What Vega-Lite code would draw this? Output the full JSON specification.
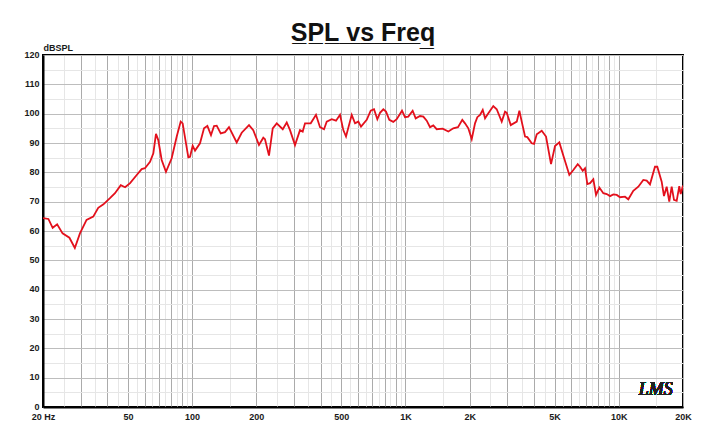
{
  "$schema": "https://vega.github.io/schema/vega-lite/v6.json",
  "width": 640,
  "height": 352,
  "autosize": {"type": "none"},
  "padding": {"left": 43, "top": 55, "right": 21, "bottom": 18},
  "background": "white",
  "title": {
    "text": "S\u0332P\u0332L\u0332 \u0332v\u0332s\u0332 \u0332F\u0332r\u0332e\u0332q\u0332",
    "font": "Liberation Sans",
    "fontSize": 25,
    "fontWeight": "bold",
    "color": "#111111",
    "anchor": "middle",
    "frame": "group",
    "offset": -3
  },
  "config": {
    "view": {"stroke": "#000000", "strokeWidth": 2},
    "axis": {
      "labelFont": "Liberation Sans",
      "labelFontSize": 9,
      "labelFontWeight": "bold",
      "labelColor": "#1a1a1a",
      "domainColor": "#000000",
      "domainWidth": 2,
      "ticks": false,
      "labelOverlap": false,
      "labelBound": false,
      "labelFlush": false
    }
  },
  "data": {
    "values": [
      {"freq": 20.0, "spl": 64.4}, {"freq": 21.2, "spl": 64.1}, {"freq": 22.2, "spl": 61.1},
      {"freq": 23.3, "spl": 62.3}, {"freq": 24.7, "spl": 59.2}, {"freq": 26.6, "spl": 57.7},
      {"freq": 28.2, "spl": 54.2}, {"freq": 29.8, "spl": 59.2}, {"freq": 32.0, "spl": 63.8},
      {"freq": 34.4, "spl": 64.9}, {"freq": 36.3, "spl": 67.9}, {"freq": 38.4, "spl": 69.1},
      {"freq": 41.2, "spl": 71.2}, {"freq": 43.5, "spl": 72.9}, {"freq": 46.3, "spl": 75.6},
      {"freq": 48.5, "spl": 74.9}, {"freq": 51.2, "spl": 76.3}, {"freq": 55.0, "spl": 79.1},
      {"freq": 58.0, "spl": 81.1}, {"freq": 60.1, "spl": 81.4}, {"freq": 63.5, "spl": 83.6},
      {"freq": 65.8, "spl": 86.5}, {"freq": 67.7, "spl": 93.1}, {"freq": 69.4, "spl": 91.0},
      {"freq": 72.0, "spl": 84.2}, {"freq": 75.4, "spl": 80.2}, {"freq": 80.2, "spl": 84.8},
      {"freq": 84.7, "spl": 92.2}, {"freq": 88.4, "spl": 97.3}, {"freq": 90.3, "spl": 96.7},
      {"freq": 96.0, "spl": 85.1}, {"freq": 97.8, "spl": 85.3}, {"freq": 100.6, "spl": 89.1},
      {"freq": 103.2, "spl": 87.4}, {"freq": 108.9, "spl": 89.9}, {"freq": 113.7, "spl": 95.0},
      {"freq": 117.9, "spl": 95.8}, {"freq": 122.6, "spl": 92.7}, {"freq": 126.7, "spl": 95.8},
      {"freq": 130.4, "spl": 95.9}, {"freq": 136.2, "spl": 93.3}, {"freq": 142.6, "spl": 93.7},
      {"freq": 148.9, "spl": 95.4}, {"freq": 161.8, "spl": 90.2}, {"freq": 170.8, "spl": 93.5},
      {"freq": 184.8, "spl": 96.1}, {"freq": 193.5, "spl": 94.4}, {"freq": 205.8, "spl": 89.3},
      {"freq": 215.6, "spl": 91.8}, {"freq": 219.6, "spl": 91.3}, {"freq": 229.3, "spl": 85.7},
      {"freq": 238.7, "spl": 95.0}, {"freq": 249.3, "spl": 96.7}, {"freq": 266.0, "spl": 94.7},
      {"freq": 277.7, "spl": 97.0}, {"freq": 287.7, "spl": 94.4}, {"freq": 303.6, "spl": 89.3},
      {"freq": 320.4, "spl": 94.4}, {"freq": 329.9, "spl": 93.9}, {"freq": 338.2, "spl": 96.7},
      {"freq": 359.7, "spl": 96.7}, {"freq": 380.8, "spl": 99.6}, {"freq": 397.6, "spl": 95.4},
      {"freq": 415.2, "spl": 94.7}, {"freq": 427.5, "spl": 97.3}, {"freq": 451.2, "spl": 98.1},
      {"freq": 472.7, "spl": 97.6}, {"freq": 493.5, "spl": 99.6}, {"freq": 511.4, "spl": 94.4},
      {"freq": 526.5, "spl": 92.2}, {"freq": 560.0, "spl": 99.6}, {"freq": 580.3, "spl": 96.7},
      {"freq": 601.3, "spl": 97.3}, {"freq": 619.0, "spl": 95.6}, {"freq": 658.3, "spl": 97.9},
      {"freq": 687.3, "spl": 101.0}, {"freq": 712.3, "spl": 101.5}, {"freq": 738.2, "spl": 98.1},
      {"freq": 759.9, "spl": 100.3}, {"freq": 787.5, "spl": 101.5}, {"freq": 810.7, "spl": 100.7},
      {"freq": 840.1, "spl": 97.9}, {"freq": 877.1, "spl": 97.2}, {"freq": 909.9, "spl": 98.1},
      {"freq": 963.6, "spl": 101.0}, {"freq": 995.2, "spl": 98.8}, {"freq": 1031, "spl": 99.0},
      {"freq": 1081, "spl": 101.0}, {"freq": 1117, "spl": 98.4}, {"freq": 1170, "spl": 99.2},
      {"freq": 1213, "spl": 99.0}, {"freq": 1258, "spl": 97.6}, {"freq": 1304, "spl": 95.4},
      {"freq": 1351, "spl": 96.0}, {"freq": 1401, "spl": 94.7}, {"freq": 1495, "spl": 94.9},
      {"freq": 1589, "spl": 93.9}, {"freq": 1676, "spl": 95.0}, {"freq": 1763, "spl": 95.4},
      {"freq": 1847, "spl": 97.9}, {"freq": 1902, "spl": 96.7}, {"freq": 1971, "spl": 95.0},
      {"freq": 2045, "spl": 91.3}, {"freq": 2119, "spl": 96.7}, {"freq": 2172, "spl": 98.8},
      {"freq": 2237, "spl": 99.6}, {"freq": 2303, "spl": 101.3}, {"freq": 2361, "spl": 98.4},
      {"freq": 2447, "spl": 100.1}, {"freq": 2581, "spl": 102.6}, {"freq": 2678, "spl": 101.5},
      {"freq": 2827, "spl": 97.3}, {"freq": 2930, "spl": 100.7}, {"freq": 2984, "spl": 100.3},
      {"freq": 3116, "spl": 96.1}, {"freq": 3325, "spl": 97.3}, {"freq": 3420, "spl": 101.0},
      {"freq": 3508, "spl": 97.3}, {"freq": 3636, "spl": 92.2}, {"freq": 3727, "spl": 92.0},
      {"freq": 3908, "spl": 89.9}, {"freq": 4006, "spl": 89.7}, {"freq": 4125, "spl": 93.0},
      {"freq": 4353, "spl": 94.2}, {"freq": 4560, "spl": 92.2}, {"freq": 4813, "spl": 82.8},
      {"freq": 5024, "spl": 89.0}, {"freq": 5264, "spl": 90.2}, {"freq": 5536, "spl": 85.0},
      {"freq": 5864, "spl": 79.1}, {"freq": 6123, "spl": 80.8}, {"freq": 6420, "spl": 82.8},
      {"freq": 6581, "spl": 81.9}, {"freq": 6777, "spl": 80.5}, {"freq": 6947, "spl": 81.4},
      {"freq": 7122, "spl": 76.0}, {"freq": 7332, "spl": 76.3}, {"freq": 7598, "spl": 77.6},
      {"freq": 7823, "spl": 72.3}, {"freq": 8107, "spl": 74.8}, {"freq": 8464, "spl": 72.9},
      {"freq": 8781, "spl": 72.6}, {"freq": 9099, "spl": 71.9}, {"freq": 9430, "spl": 72.5},
      {"freq": 9783, "spl": 72.3}, {"freq": 10133, "spl": 71.5}, {"freq": 10694, "spl": 71.7},
      {"freq": 11083, "spl": 70.8}, {"freq": 11696, "spl": 73.7}, {"freq": 12347, "spl": 75.1},
      {"freq": 13031, "spl": 77.4}, {"freq": 13516, "spl": 77.2}, {"freq": 14005, "spl": 75.9},
      {"freq": 14781, "spl": 81.9}, {"freq": 15152, "spl": 81.9}, {"freq": 15888, "spl": 76.8},
      {"freq": 16288, "spl": 71.9}, {"freq": 16768, "spl": 75.1}, {"freq": 17245, "spl": 70.0},
      {"freq": 17700, "spl": 75.1}, {"freq": 18146, "spl": 70.6}, {"freq": 18681, "spl": 70.3},
      {"freq": 19214, "spl": 75.3}, {"freq": 19508, "spl": 72.6}, {"freq": 20000, "spl": 75.5}
    ]
  },
  "layer": [
    {
      "mark": {"type": "line", "color": "#e3101c", "strokeWidth": 1.8, "clip": true},
      "encoding": {
        "x": {
          "field": "freq",
          "type": "quantitative",
          "scale": {"type": "log", "domain": [20, 20000], "nice": false},
          "axis": {
            "title": null,
            "tickCount": 200,
            "values": [25, 35, 45, 55, 65, 75, 85, 95, 150, 250, 350, 450, 550, 650, 750, 850, 950, 1500, 2500, 3500, 4500, 5500, 6500, 7500, 8500, 9500, 15000,
                       20, 30, 40, 50, 60, 70, 80, 90, 100, 200, 300, 400, 500, 600, 700, 800, 900, 1000, 2000, 3000, 4000, 5000, 6000, 7000, 8000, 9000, 10000, 20000],
            "labelExpr": "datum.value == 20 ? '20  Hz' : datum.value == 50 ? '50' : datum.value == 100 ? '100' : datum.value == 200 ? '200' : datum.value == 500 ? '500' : datum.value == 1000 ? '1K' : datum.value == 2000 ? '2K' : datum.value == 5000 ? '5K' : datum.value == 10000 ? '10K' : datum.value == 20000 ? '20K' : ''",
            "labelPadding": 5,
            "labelOverlap": false,
            "gridColor": {"condition": {"test": "round(datum.value / pow(10, floor(log(datum.value) / LN10 + 1e-9))) == datum.value / pow(10, floor(log(datum.value) / LN10 + 1e-9))", "value": "#ababab"}, "value": "#e6e6e6"},
            "gridWidth": 1
          }
        },
        "y": {
          "field": "spl",
          "type": "quantitative",
          "scale": {"domain": [0, 120], "nice": false},
          "axis": {
            "title": "dBSPL",
            "titleAngle": 0,
            "titleX": 0,
            "titleY": -8,
            "titleAlign": "left",
            "titleBaseline": "middle",
            "titleFont": "Liberation Sans",
            "titleFontSize": 9,
            "titleFontWeight": "bold",
            "titleColor": "#1a1a1a",
            "tickCount": 200,
            "values": [5, 15, 25, 35, 45, 55, 65, 75, 85, 95, 105, 115, 0, 10, 20, 30, 40, 50, 60, 70, 80, 90, 100, 110, 120],
            "labelExpr": "datum.value % 10 == 0 ? format(datum.value, 'd') : ''",
            "labelOverlap": false,
            "labelPadding": 4,
            "labelBaseline": "bottom",
            "labelOffset": 4,
            "gridColor": {"condition": {"test": "datum.value % 10 == 0", "value": "#bdbdbd"}, "value": "#e6e6e6"},
            "gridWidth": 1
          }
        }
      }
    },
    {
      "mark": {"type": "text", "text": "LMS", "font": "Liberation Serif", "fontStyle": "italic", "fontWeight": "normal", "fontSize": 18, "color": "#222222"},
      "encoding": {
        "x": {"datum": 14900, "type": "quantitative"},
        "y": {"datum": 5.8, "type": "quantitative"}
      }
    }
  ]
}
